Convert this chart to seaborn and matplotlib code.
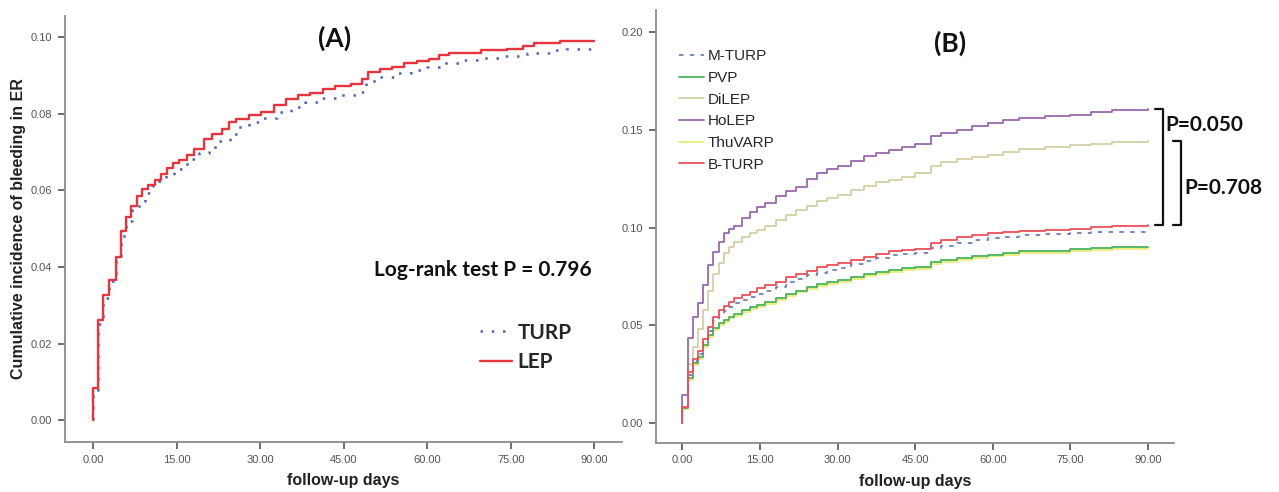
import numpy as np
import pandas as pd
import seaborn as sns
import matplotlib.pyplot as plt

# ---- panel A data (cumulative incidence, step curves) ----
lep_days = [0, 0, 0.9, 1.8, 2.8, 4.0, 4.9, 5.9, 6.8, 7.9, 8.8, 9.9, 11.0, 12.1, 13.2, 14.3,
            15.4, 16.9, 18.0, 19.9, 21.3, 23.2, 24.3, 25.7, 28.0, 30.1, 32.4, 34.6, 36.8,
            39.0, 41.2, 43.4, 46.3, 48.2, 49.3, 51.5, 53.7, 55.9, 58.1, 60.3, 62.1, 64.0,
            69.7, 74.3, 77.2, 79.1, 83.8, 90.0]
lep_cum = [0, 0.0083, 0.0261, 0.0326, 0.0367, 0.0426, 0.0493, 0.0530, 0.0558, 0.0584, 0.0604,
           0.0613, 0.0626, 0.0642, 0.0657, 0.0670, 0.0678, 0.0691, 0.0709, 0.0735, 0.0748,
           0.0761, 0.0778, 0.0787, 0.0796, 0.0804, 0.0822, 0.0839, 0.0848, 0.0854, 0.0865,
           0.0872, 0.0878, 0.0891, 0.0909, 0.0917, 0.0922, 0.0932, 0.0937, 0.0943, 0.0952,
           0.0959, 0.0965, 0.0970, 0.0976, 0.0985, 0.0989, 0.0989]
turp_days = [0, 0, 0.9, 1.8, 2.8, 4.0, 4.9, 5.9, 7.0, 8.2, 9.3, 10.5, 11.8, 13.0, 14.5, 16.0,
             17.5, 19.0, 20.8, 22.5, 24.5, 26.0, 28.0, 30.5, 33.0, 35.5, 38.0, 41.0, 44.0,
             47.5, 49.0, 51.0, 54.0, 57.0, 60.0, 63.0, 66.0, 70.0, 74.0, 78.0, 82.0, 85.0, 90.0]
turp_cum = [0, 0.0080, 0.0252, 0.0320, 0.0362, 0.0418, 0.0480, 0.0520, 0.0548, 0.0572, 0.0592,
            0.0610, 0.0625, 0.0640, 0.0655, 0.0668, 0.0683, 0.0698, 0.0713, 0.0728, 0.0748,
            0.0765, 0.0778, 0.0790, 0.0805, 0.0818, 0.0830, 0.0840, 0.0850, 0.0857, 0.0885,
            0.0895, 0.0905, 0.0913, 0.0922, 0.0932, 0.0940, 0.0945, 0.0950, 0.0958, 0.0965,
            0.0968, 0.0968]

# ---- panel B data ----
b_days = [0, 0, 1.0, 2.0, 3.0, 4.0, 5.0, 6.0, 7.0, 8.0, 9.0, 10.0, 11.5, 13.0, 14.5, 16.0,
          18.0, 20.0, 22.0, 24.0, 26.0, 28.0, 30.0, 32.5, 35.0, 37.5, 40.0, 42.5, 45.0, 48.0,
          50.0, 53.0, 56.0, 59.0, 62.0, 65.0, 70.0, 75.0, 79.0, 83.0, 90.0]
holep = [0, 0.0143, 0.0433, 0.0543, 0.0612, 0.0706, 0.0808, 0.0876, 0.0926, 0.0970,
         0.0995, 0.1010, 0.1050, 0.1080, 0.1105, 0.1125, 0.1160, 0.1185, 0.1210, 0.1250,
         0.1280, 0.1300, 0.1315, 0.1340, 0.1365, 0.1382, 0.1395, 0.1412, 0.1425, 0.1468,
         0.1483, 0.1500, 0.1517, 0.1534, 0.1548, 0.1560, 0.1570, 0.1578, 0.1590, 0.1600, 0.1605]
dilep = [0, 0.0080, 0.0300, 0.0390, 0.0480, 0.0580, 0.0676, 0.0760, 0.0820, 0.0870,
         0.0900, 0.0925, 0.0950, 0.0970, 0.0990, 0.1010, 0.1040, 0.1065, 0.1090, 0.1110,
         0.1135, 0.1150, 0.1165, 0.1190, 0.1215, 0.1235, 0.1245, 0.1260, 0.1280, 0.1315,
         0.1335, 0.1350, 0.1360, 0.1372, 0.1385, 0.1400, 0.1410, 0.1420, 0.1430, 0.1440, 0.1445]
bturp = [0, 0.0083, 0.0260, 0.0330, 0.0370, 0.0430, 0.0490, 0.0540, 0.0578, 0.0600,
         0.0620, 0.0638, 0.0654, 0.0672, 0.0690, 0.0705, 0.0723, 0.0748, 0.0765, 0.0780,
         0.0796, 0.0808, 0.0820, 0.0834, 0.0850, 0.0865, 0.0878, 0.0885, 0.0890, 0.0920,
         0.0936, 0.0950, 0.0962, 0.0970, 0.0978, 0.0984, 0.0990, 0.0995, 0.1002, 0.1010, 0.1012]
mturp = [0, 0.0080, 0.0245, 0.0315, 0.0355, 0.0410, 0.0470, 0.0520, 0.0555, 0.0575,
         0.0595, 0.0612, 0.0628, 0.0645, 0.0662, 0.0678, 0.0698, 0.0720, 0.0738, 0.0755,
         0.0770, 0.0782, 0.0795, 0.0812, 0.0830, 0.0845, 0.0858, 0.0865, 0.0872, 0.0895,
         0.0905, 0.0920, 0.0935, 0.0945, 0.0952, 0.0960, 0.0965, 0.0970, 0.0975, 0.0978, 0.0979]
pvp = [0, 0.0075, 0.0230, 0.0307, 0.0340, 0.0400, 0.0450, 0.0485, 0.0510, 0.0527,
       0.0545, 0.0560, 0.0578, 0.0592, 0.0604, 0.0618, 0.0640, 0.0660, 0.0678, 0.0695,
       0.0710, 0.0722, 0.0732, 0.0748, 0.0760, 0.0775, 0.0785, 0.0795, 0.0800, 0.0825,
       0.0835, 0.0845, 0.0853, 0.0862, 0.0870, 0.0878, 0.0882, 0.0888, 0.0895, 0.0900, 0.0902]
thuvarp = [0, 0.0070, 0.0220, 0.0295, 0.0330, 0.0390, 0.0440, 0.0475, 0.0500, 0.0517,
           0.0535, 0.0550, 0.0568, 0.0582, 0.0595, 0.0608, 0.0630, 0.0650, 0.0668, 0.0685,
           0.0700, 0.0712, 0.0722, 0.0738, 0.0750, 0.0765, 0.0775, 0.0785, 0.0790, 0.0815,
           0.0825, 0.0835, 0.0843, 0.0852, 0.0860, 0.0868, 0.0872, 0.0878, 0.0884, 0.0888, 0.0890]

x_ticks = [0, 15, 30, 45, 60, 75, 90]
ya_ticks = [0.00, 0.02, 0.04, 0.06, 0.08, 0.10]
yb_ticks = [0.00, 0.05, 0.10, 0.15, 0.20]

sns.set_theme(style="ticks")
plt.rcParams["font.family"] = ["Liberation Sans", "DejaVu Sans"]
BOLD = ["Lato", "DejaVu Sans"]

fig = plt.figure(figsize=(12.79, 4.92), dpi=100)
ax_a = fig.add_axes([0.0508, 0.1016, 0.4355, 0.8659])
ax_b = fig.add_axes([0.5129, 0.0996, 0.4050, 0.8801])


def style_axis(ax, yticks, ylim):
    sns.despine(ax=ax)
    for s in ("left", "bottom"):
        ax.spines[s].set_color("#8c8c8c")
        ax.spines[s].set_linewidth(1.3)
    ax.set_xlim(-5.1, 95.0)
    ax.set_ylim(*ylim)
    ax.set_xticks(x_ticks)
    ax.set_xticklabels([f"{t:.2f}" for t in x_ticks])
    ax.set_yticks(yticks)
    ax.set_yticklabels([f"{t:.2f}" for t in yticks])
    ax.tick_params(axis="both", colors="#555555", labelsize=8, length=5, width=1.2,
                   direction="out", pad=4)
    ax.set_xlabel("follow-up days", fontsize=11.5, fontweight="bold", color="#222222",
                  va="center")
    ax.xaxis.set_label_coords(0.5, -0.09)


# ---- panel A ----
sns.lineplot(x=turp_days, y=turp_cum, ax=ax_a, color="#4f63b8", linewidth=1.8,
             linestyle=(0, (1, 3.5)), drawstyle="steps-post", estimator=None, sort=False,
             label="TURP")
sns.lineplot(x=lep_days, y=lep_cum, ax=ax_a, color="#e8343d", linewidth=1.7,
             drawstyle="steps-post", estimator=None, sort=False, label="LEP")
style_axis(ax_a, ya_ticks, (-0.0057, 0.1055))
ax_a.set_ylabel("Cumulative incidence of bleeding in ER", fontsize=11.5, fontweight="bold",
                color="#222222", va="center")
ax_a.yaxis.set_label_coords(-0.084, 0.5)
ax_a.text(43.4, 0.0997, "(A)", fontsize=19, fontweight="bold", family=BOLD,
          ha="center", va="center", color="#111111")
ax_a.text(89.6, 0.0392, "Log-rank test P = 0.796", fontsize=15, fontweight="bold",
          family=BOLD, ha="right", va="center", color="#111111")
ax_a.legend(loc="center left", bbox_to_anchor=(0.745, 0.222), frameon=False,
            handlelength=1.55, handletextpad=0.25, labelspacing=0.45,
            borderpad=0, borderaxespad=0,
            prop={"family": BOLD, "weight": "bold", "size": 15})

# ---- panel B ----
series_b = [("ThuVARP", thuvarp, "#ecec7c", "-"),
            ("PVP", pvp, "#4cb35a", "-"),
            ("DiLEP", dilep, "#d3d0a6", "-"),
            ("HoLEP", holep, "#9a68ae", "-"),
            ("M-TURP", mturp, "#6f80b8", (0, (2.5, 3.5))),
            ("B-TURP", bturp, "#ee5058", "-")]
for name, vals, col, ls in series_b:
    sns.lineplot(x=b_days, y=vals, ax=ax_b, color=col, linewidth=1.3, linestyle=ls,
                 drawstyle="steps-post", estimator=None, sort=False, label=name)
style_axis(ax_b, yb_ticks, (-0.0102, 0.2113))
ax_b.set_ylabel("")
handles, labels = ax_b.get_legend_handles_labels()
order = ["M-TURP", "PVP", "DiLEP", "HoLEP", "ThuVARP", "B-TURP"]
hmap = dict(zip(labels, handles))
ax_b.legend([hmap[k] for k in order], order, loc="center left",
            bbox_to_anchor=(0.045, 0.768), frameon=False, handlelength=1.6,
            handletextpad=0.25, labelspacing=0.5, borderpad=0, borderaxespad=0,
            prop={"size": 11})
ax_b.text(51.7, 0.194, "(B)", fontsize=19, fontweight="bold", family=BOLD,
          ha="center", va="center", color="#111111")


# p-value brackets built from the series end values
def bracket(ax, x, y_top, y_bot, arm):
    ax.plot([x - arm, x, x, x - arm], [y_top, y_top, y_bot, y_bot], color="#111111",
            linewidth=1.6, clip_on=False)


bracket(ax_b, 92.8, holep[-1], bturp[-1], 1.4)
bracket(ax_b, 96.3, dilep[-1], bturp[-1], 1.4)
ax_b.text(93.4, 0.1524, "P=0.050", fontsize=15, fontweight="bold", family=BOLD,
          ha="left", va="center", color="#111111", clip_on=False)
ax_b.text(97.0, 0.1200, "P=0.708", fontsize=15, fontweight="bold", family=BOLD,
          ha="left", va="center", color="#111111", clip_on=False)

fig.savefig("out.png", dpi=100)
plt.close(fig)
